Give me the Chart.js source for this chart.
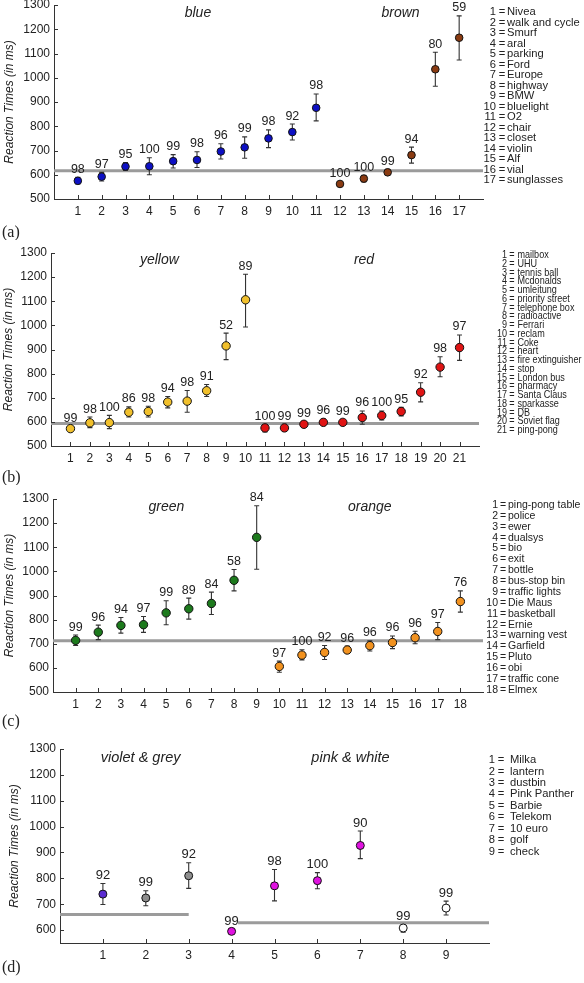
<!DOCTYPE html>
<html>
<head>
<meta charset="utf-8">
<script src="https://cdn.jsdelivr.net/npm/chart.js@4.4.1/dist/chart.umd.min.js"></script>
<style>
  html, body { margin: 0; padding: 0; background: #fff; }
  body { width: 584px; height: 983px; position: relative; overflow: hidden; }
  canvas { position: absolute; left: 0; }
</style>
</head>
<body>
<canvas id="panelA" width="584" height="240" style="top:0px"></canvas>
<canvas id="panelB" width="584" height="245" style="top:240px"></canvas>
<canvas id="panelC" width="584" height="245" style="top:485px"></canvas>
<canvas id="panelD" width="584" height="253" style="top:730px"></canvas>
<script>
// ---- panel (a): blue / brown ----
const aNames = ['Nivea', 'walk and cycle', 'Smurf', 'aral', 'parking', 'Ford', 'Europe', 'highway', 'BMW',
  'bluelight', 'O2', 'chair', 'closet', 'violin', 'Alf', 'vial', 'sunglasses'];
const aMeans = [575, 592, 634, 635, 656, 661, 696, 713, 750, 776, 876, 562, 584, 610, 681, 1035, 1165];
const aLow   = [562, 574, 618, 600, 628, 630, 665, 668, 712, 743, 822, 552, 570, 600, 648, 965, 1073];
const aHigh  = [590, 610, 650, 670, 683, 695, 728, 756, 785, 809, 933, 572, 598, 622, 714, 1105, 1255];
const aPct   = [98, 97, 95, 100, 99, 98, 96, 99, 98, 92, 98, 100, 100, 99, 94, 80, 59];
const aGroups = ['blue', 'brown'];
const aGroupSizes = [11, 6];
const aRef = 617;

// ---- panel (b): yellow / red ----
const bNames = ['mailbox', 'UHU', 'tennis ball', 'Mcdonalds', 'umleitung', 'priority street', 'telephone box',
  'radioactive', 'Ferrari', 'reclam', 'Coke', 'heart', 'fire extinguisher', 'stop', 'London bus', 'pharmacy',
  'Santa Claus', 'sparkasse', 'DB', 'Soviet flag', 'ping-pong'];
const bMeans = [572, 596, 597, 640, 643, 682, 686, 729, 915, 1106, 575, 575, 590, 598, 598, 618, 626, 643, 723, 827, 908];
const bLow   = [562, 576, 572, 620, 620, 658, 640, 705, 858, 993, 558, 560, 582, 585, 587, 590, 608, 625, 683, 787, 855];
const bHigh  = [582, 620, 627, 662, 665, 705, 730, 755, 968, 1212, 590, 590, 600, 612, 610, 645, 645, 660, 762, 870, 960];
const bPct   = [99, 98, 100, 86, 98, 94, 98, 91, 52, 89, 100, 99, 99, 96, 99, 96, 100, 95, 92, 98, 97];
const bGroups = ['yellow', 'red'];
const bGroupSizes = [10, 11];
const bRef = 593;

// ---- panel (c): green / orange ----
const cNames = ['ping-pong table', 'police', 'ewer', 'dualsys', 'bio', 'exit', 'bottle', 'bus-stop bin',
  'traffic lights', 'Die Maus', 'basketball', 'Ernie', 'warning vest', 'Garfield', 'Pluto', 'obi',
  'traffic cone', 'Elmex'];
const cMeans = [714, 748, 776, 779, 828, 845, 867, 963, 1141, 606, 653, 664, 674, 692, 705, 725, 751, 875];
const cLow   = [693, 717, 744, 747, 779, 802, 821, 919, 1009, 582, 633, 635, 660, 670, 680, 700, 717, 831];
const cHigh  = [736, 777, 809, 813, 878, 889, 914, 1008, 1272, 628, 675, 693, 690, 712, 732, 752, 788, 919];
const cPct   = [99, 96, 94, 97, 99, 89, 84, 58, 84, 97, 100, 92, 96, 96, 96, 96, 97, 76];
const cGroups = ['green', 'orange'];
const cGroupSizes = [9, 9];
const cRef = 712;

// ---- panel (d): violet & grey / pink & white ----
const dNames = ['Milka', 'lantern', 'dustbin', 'Pink Panther', 'Barbie', 'Telekom', '10 euro', 'golf', 'check'];
const dMeans = [739, 724, 810, 595, 771, 791, 927, 608, 685];
const dLow   = [699, 694, 761, 588, 713, 760, 876, 592, 658];
const dHigh  = [780, 752, 860, 603, 834, 822, 983, 621, 712];
const dPct   = [92, 99, 92, 99, 98, 100, 90, 99, 99];
const dGroups = ['violet & grey', 'pink & white'];
const dGroupSizes = [1, 2, 4, 2];
const dRefs = [660, 628];

const yTicksFull = [500, 600, 700, 800, 900, 1000, 1100, 1200, 1300];
const yTicksD = [600, 700, 800, 900, 1000, 1100, 1200, 1300];

const FONT = "'Liberation Sans', Arial, Helvetica, sans-serif";
const INK = '#222';

function expandColors(sizes, colors) {
  const out = [];
  sizes.forEach((n, k) => { for (let i = 0; i < n; i++) out.push(colors[k]); });
  return out;
}

function makePanel(cfg) {
  const top = cfg.top;
  const n = cfg.means.length;

  const deco = {
    id: 'deco_' + cfg.id,
    beforeDatasetDraw(chart, args) {
      if (args.index !== 0) return;
      const ctx = chart.ctx, xs = chart.scales.x, ys = chart.scales.y;
      ctx.save();
      ctx.strokeStyle = '#333';
      ctx.lineWidth = 1.1;
      ctx.beginPath();
      cfg.means.forEach((m, i) => {
        const px = xs.getPixelForValue(i + 1);
        const yl = ys.getPixelForValue(cfg.low[i]);
        const yh = ys.getPixelForValue(cfg.high[i]);
        ctx.moveTo(px, yl); ctx.lineTo(px, yh);
        ctx.moveTo(px - 2.5, yl); ctx.lineTo(px + 2.5, yl);
        ctx.moveTo(px - 2.5, yh); ctx.lineTo(px + 2.5, yh);
      });
      ctx.stroke();
      ctx.restore();
    },
    afterDraw(chart) {
      const ctx = chart.ctx, xs = chart.scales.x, ys = chart.scales.y, area = chart.chartArea;
      ctx.save();

      // inward tick marks
      ctx.strokeStyle = '#333';
      ctx.lineWidth = 1;
      ctx.beginPath();
      xs.ticks.forEach(t => {
        const px = Math.round(xs.getPixelForValue(t.value)) + 0.5;
        ctx.moveTo(px, area.bottom); ctx.lineTo(px, area.bottom - 4);
      });
      ys.ticks.forEach(t => {
        const py = Math.round(ys.getPixelForValue(t.value)) + 0.5;
        ctx.moveTo(area.left, py); ctx.lineTo(area.left + 4, py);
      });
      ctx.stroke();

      // percentage labels above error bars
      ctx.fillStyle = INK;
      ctx.font = cfg.labelSize + 'px ' + FONT;
      ctx.textAlign = 'center';
      ctx.textBaseline = 'middle';
      cfg.pct.forEach((p, i) => {
        const px = xs.getPixelForValue(i + 1);
        const py = ys.getPixelForValue(cfg.high[i]) - 8;
        ctx.fillText(String(p), px, py);
      });

      // group titles
      ctx.font = 'italic ' + cfg.groupSize + 'px ' + FONT;
      cfg.groups.forEach((g, k) => {
        const pos = cfg.groupPos[k];
        ctx.fillText(g, xs.getPixelForValue(pos[0]), ys.getPixelForValue(pos[1]));
      });

      // y axis title
      ctx.save();
      ctx.font = 'italic 12px ' + FONT;
      ctx.translate(cfg.yTitleX, (area.top + area.bottom) / 2);
      ctx.rotate(-Math.PI / 2);
      ctx.fillText('Reaction Times (in ms)', 0, 0);
      ctx.restore();

      // legend list
      const lg = cfg.legend;
      ctx.font = lg.size + 'px ' + FONT;
      cfg.names.forEach((name, i) => {
        const y = lg.y0 + i * lg.dy - top;
        ctx.save();
        ctx.translate(0, y);
        ctx.scale(lg.sx, 1);
        ctx.textAlign = 'right';
        ctx.fillText(String(i + 1), lg.numRight / lg.sx, 0);
        ctx.textAlign = 'center';
        ctx.fillText('=', lg.eqX / lg.sx, 0);
        ctx.textAlign = 'left';
        ctx.fillText(name, lg.textX / lg.sx, 0);
        ctx.restore();
      });

      // panel letter
      ctx.font = '16px "Liberation Serif", "DejaVu Serif", serif';
      ctx.textAlign = 'left';
      ctx.fillText(cfg.letter, 2, cfg.letterY - top);

      ctx.restore();
    }
  };

  const datasets = [{
    data: cfg.means.map((m, i) => ({ x: i + 1, y: m })),
    backgroundColor: cfg.colors,
    borderColor: '#111',
    borderWidth: 1,
    pointRadius: cfg.pointR,
    pointHoverRadius: cfg.pointR,
    order: 0
  }];
  cfg.refs.forEach(r => {
    datasets.push({
      data: [{ x: r.x0, y: r.y }, { x: r.x1, y: r.y }],
      showLine: true,
      borderColor: '#9b9b9b',
      borderWidth: 3,
      pointRadius: 0,
      order: 1
    });
  });

  return new Chart(document.getElementById(cfg.id), {
    type: 'scatter',
    data: { datasets: datasets },
    options: {
      responsive: false,
      animation: false,
      events: [],
      layout: { padding: { top: cfg.T, right: cfg.R, bottom: 0, left: 0 } },
      plugins: { legend: { display: false }, tooltip: { enabled: false } },
      scales: {
        x: {
          type: 'linear',
          min: 0,
          max: cfg.xMax,
          grid: { display: false, drawTicks: false },
          border: { display: true, color: '#333', width: 1 },
          afterBuildTicks: s => { s.ticks = Array.from({ length: n }, (_, i) => ({ value: i + 1 })); },
          afterFit: s => { s.height = cfg.B; s.paddingLeft = 0; s.paddingRight = 0; },
          ticks: {
            autoSkip: false, maxRotation: 0, padding: 5, color: INK,
            font: { family: FONT, size: 12 },
            callback: v => String(v)
          }
        },
        y: {
          min: cfg.yMin,
          max: 1300,
          grid: { display: false, drawTicks: false },
          border: { display: true, color: '#333', width: 1 },
          afterBuildTicks: s => { s.ticks = cfg.yTicks.map(v => ({ value: v })); },
          afterFit: s => { s.width = cfg.L; s.paddingTop = 0; s.paddingBottom = 0; },
          ticks: {
            padding: 4, color: INK,
            font: { family: FONT, size: 12 },
            callback: v => String(v)
          }
        }
      }
    },
    plugins: [deco]
  });
}

makePanel({
  id: 'panelA', top: 0, L: 54, R: 101, T: 5, B: 41, xMax: 18, yMin: 500, yTicks: yTicksFull,
  means: aMeans, low: aLow, high: aHigh, pct: aPct, names: aNames,
  colors: expandColors(aGroupSizes, ['#0d10c4', '#8a3b12']),
  refs: [{ y: aRef, x0: 0, x1: 18 }],
  groups: aGroups, groupPos: [[6.04, 1266], [14.54, 1266]], groupSize: 14,
  labelSize: 12.5, pointR: 3.8, yTitleX: 10,
  legend: { numRight: 496, eqX: 502, textX: 507, y0: 12, dy: 10.52, size: 11.2, sx: 1 },
  letter: '(a)', letterY: 233
});

makePanel({
  id: 'panelB', top: 240, L: 51, R: 105, T: 13, B: 39, xMax: 22, yMin: 500, yTicks: yTicksFull,
  means: bMeans, low: bLow, high: bHigh, pct: bPct, names: bNames,
  colors: expandColors(bGroupSizes, ['#f1c02c', '#e01414']),
  refs: [{ y: bRef, x0: 0, x1: 22 }],
  groups: bGroups, groupPos: [[5.57, 1269], [16.09, 1269]], groupSize: 14,
  labelSize: 12.5, pointR: 4.2, yTitleX: 9,
  legend: { numRight: 507, eqX: 512, textX: 517.5, y0: 255, dy: 8.75, size: 11.2, sx: 0.81 },
  letter: '(b)', letterY: 478
});

makePanel({
  id: 'panelC', top: 485, L: 53, R: 101, T: 14, B: 38, xMax: 19, yMin: 500, yTicks: yTicksFull,
  means: cMeans, low: cLow, high: cHigh, pct: cPct, names: cNames,
  colors: expandColors(cGroupSizes, ['#1d7a1d', '#f2921f']),
  refs: [{ y: cRef, x0: 0, x1: 19 }],
  groups: cGroups, groupPos: [[5.01, 1266], [14.0, 1266]], groupSize: 14,
  labelSize: 12.5, pointR: 4.2, yTitleX: 10,
  legend: { numRight: 498, eqX: 503, textX: 508, y0: 505, dy: 10.88, size: 10.5, sx: 1 },
  letter: '(c)', letterY: 722
});

makePanel({
  id: 'panelD', top: 730, L: 60, R: 95, T: 19, B: 40, xMax: 10, yMin: 550, yTicks: yTicksD,
  means: dMeans, low: dLow, high: dHigh, pct: dPct, names: dNames,
  colors: expandColors(dGroupSizes, ['#5a2bd0', '#8e8e8e', '#e012e0', '#ffffff']),
  refs: [{ y: dRefs[0], x0: 0, x1: 3 }, { y: dRefs[1], x0: 4.15, x1: 10 }],
  groups: dGroups, groupPos: [[1.88, 1264], [6.77, 1264]], groupSize: 14.5,
  labelSize: 13, pointR: 4, yTitleX: 15,
  legend: { numRight: 495, eqX: 501, textX: 510, y0: 760, dy: 11.46, size: 11.2, sx: 1 },
  letter: '(d)', letterY: 968
});
</script>
</body>
</html>
